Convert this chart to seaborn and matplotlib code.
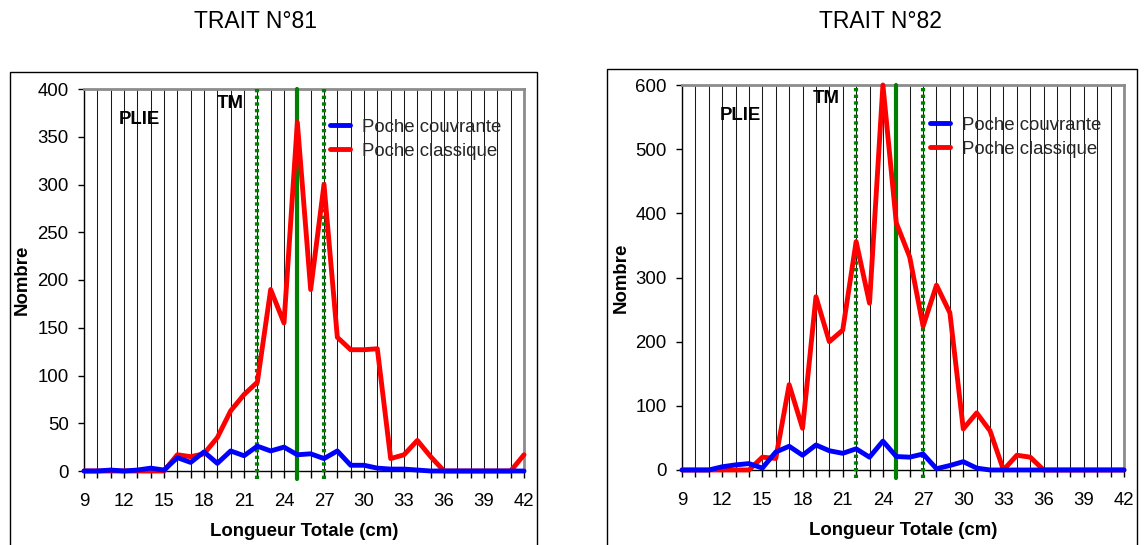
import matplotlib
matplotlib.use("Agg")
import matplotlib.pyplot as plt
import seaborn as sns
import pandas as pd
from matplotlib.patches import Rectangle

# ---------------- data ----------------
longueur = list(range(9, 43))

couvrante_81 = [0, 0, 1, 0, 1, 3, 1, 14, 9, 20, 8, 21, 16, 26, 21, 25, 17, 18, 13, 21,
                6, 6, 3, 2, 2, 1, 0, 0, 0, 0, 0, 0, 0, 0]
classique_81 = [0, 0, 0, 0, 0, 0, 0, 17, 15, 18, 35, 63, 80, 93, 190, 155, 365, 190, 300, 140,
                127, 127, 128, 13, 17, 32, 15, 0, 0, 0, 0, 0, 0, 17]

couvrante_82 = [0, 0, 0, 5, 8, 10, 3, 28, 37, 23, 39, 30, 26, 33, 20, 45, 21, 20, 25, 2,
                7, 13, 3, 0, 0, 0, 0, 0, 0, 0, 0, 0, 0, 0]
classique_82 = [0, 0, 0, 0, 0, 0, 20, 18, 133, 65, 270, 200, 218, 356, 260, 600, 385, 332, 224, 288,
                245, 64, 89, 61, 0, 23, 20, 0, 0, 0, 0, 0, 0, 0]

titles = ["TRAIT N°81", "TRAIT N°82"]
series_names = ["Poche couvrante", "Poche classique"]
x_ticks = list(range(9, 43, 3))
y_ticks_81 = list(range(0, 401, 50))
y_ticks_82 = list(range(0, 601, 100))
tm_lines = [22, 25, 27]   # dotted, solid, dotted
xlabel = "Longueur Totale (cm)"
ylabel = "Nombre"

# ---------------- style ----------------
sns.set_theme(style="white")
plt.rcParams['font.family'] = ['Liberation Sans', 'DejaVu Sans']

W, H = 1148, 545
fig = plt.figure(figsize=(W / 100, H / 100), dpi=100)

FS = 13.4
RED = "#ff0000"
BLUE = "#0000ff"
GREEN = "#008000"

# outer frames (px: x0, x1, top)
for (x0, x1, top) in [(10, 537, 72), (607, 1137, 69)]:
    fig.add_artist(Rectangle((x0 / W, -0.05), (x1 - x0) / W, 1 - top / H + 0.05,
                             transform=fig.transFigure, fill=False, ec="black", lw=1.0))

# axes (px: left, right, top, bottom)
axes_px = [(84, 524, 89, 471), (682, 1124, 85, 470)]
configs = [
    dict(title=titles[0], title_x=255, couv=couvrante_81, clas=classique_81, yt=y_ticks_81,
         ymax=400, plie=(0.125, 0.921), tm=(0.332, 0.963), leg=(0.559, 0.922), ylab_x=-0.122),
    dict(title=titles[1], title_x=880, couv=couvrante_82, clas=classique_82, yt=y_ticks_82,
         ymax=600, plie=(0.131, 0.922), tm=(0.326, 0.966), leg=(0.561, 0.918), ylab_x=-0.118),
]

for (l, r, t, b), cfg in zip(axes_px, configs):
    ax = fig.add_axes([l / W, 1 - b / H, (r - l) / W, (b - t) / H])

    df_clas = pd.DataFrame({"Longueur": longueur, "Nombre": cfg["clas"]})
    df_couv = pd.DataFrame({"Longueur": longueur, "Nombre": cfg["couv"]})

    ax.set_xlim(9, 42)
    ax.set_ylim(0, cfg["ymax"])
    ax.set_xticks(x_ticks)
    ax.set_xticks(longueur, minor=True)
    ax.set_yticks(cfg["yt"])
    ax.grid(False)
    ax.xaxis.grid(True, which="both", color="#1a1a1a", lw=0.75)
    ax.set_axisbelow(True)

    # green reference lines
    for v in tm_lines:
        if v == 25:
            ax.axvline(v, ymin=-0.022, ymax=1.0, color=GREEN, lw=3.0, clip_on=False, zorder=3)
        else:
            ax.axvline(v, ymin=-0.022, ymax=1.0, color=GREEN, lw=3.0, ls=(0, (0.8, 0.8)),
                       clip_on=False, zorder=3)

    sns.lineplot(data=df_clas, x="Longueur", y="Nombre", ax=ax, color=RED, lw=3.5,
                 label=series_names[1], zorder=4, legend=False)
    sns.lineplot(data=df_couv, x="Longueur", y="Nombre", ax=ax, color=BLUE, lw=3.5,
                 label=series_names[0], zorder=5, legend=False)
    for ln in ax.get_lines():
        ln.set_clip_on(False)
        ln.set_solid_joinstyle("round")

    handles = [ax.get_lines()[-1], ax.get_lines()[-2]]
    ax.legend(handles, series_names, loc="upper left", bbox_to_anchor=cfg["leg"],
              frameon=False, fontsize=FS, borderpad=0, borderaxespad=0,
              handlelength=1.1, handletextpad=0.6, labelspacing=0.38)

    for s in ["left", "bottom"]:
        ax.spines[s].set_color("black")
        ax.spines[s].set_linewidth(1.0)
    for s in ["top", "right"]:
        ax.spines[s].set_color("#8c8c8c")
        ax.spines[s].set_linewidth(2.0)

    ax.tick_params(axis="y", which="major", direction="out", length=4, width=1,
                   color="black", left=True, labelsize=FS, pad=7, labelcolor="black")
    ax.tick_params(axis="x", which="both", direction="out", length=5, width=1,
                   color="black", bottom=True, labelsize=FS, pad=11, labelcolor="black")

    ax.set_xlabel(xlabel, fontsize=FS, fontweight="bold", color="black")
    ax.xaxis.set_label_coords(0.5, -0.136)
    ax.set_ylabel(ylabel, fontsize=FS, fontweight="bold", color="black")
    ax.yaxis.set_label_coords(cfg["ylab_x"], 0.5)

    ax.text(cfg["plie"][0], cfg["plie"][1], "PLIE", transform=ax.transAxes, ha="center",
            va="center", fontsize=FS, fontweight="bold", color="black")
    ax.text(cfg["tm"][0], cfg["tm"][1], "TM", transform=ax.transAxes, ha="center",
            va="center", fontsize=FS, fontweight="bold", color="black")

    fig.text(cfg["title_x"] / W, 1 - 22 / H, cfg["title"], ha="center", va="center",
             fontsize=16.5, color="black")

fig.savefig("out.png", dpi=100)
